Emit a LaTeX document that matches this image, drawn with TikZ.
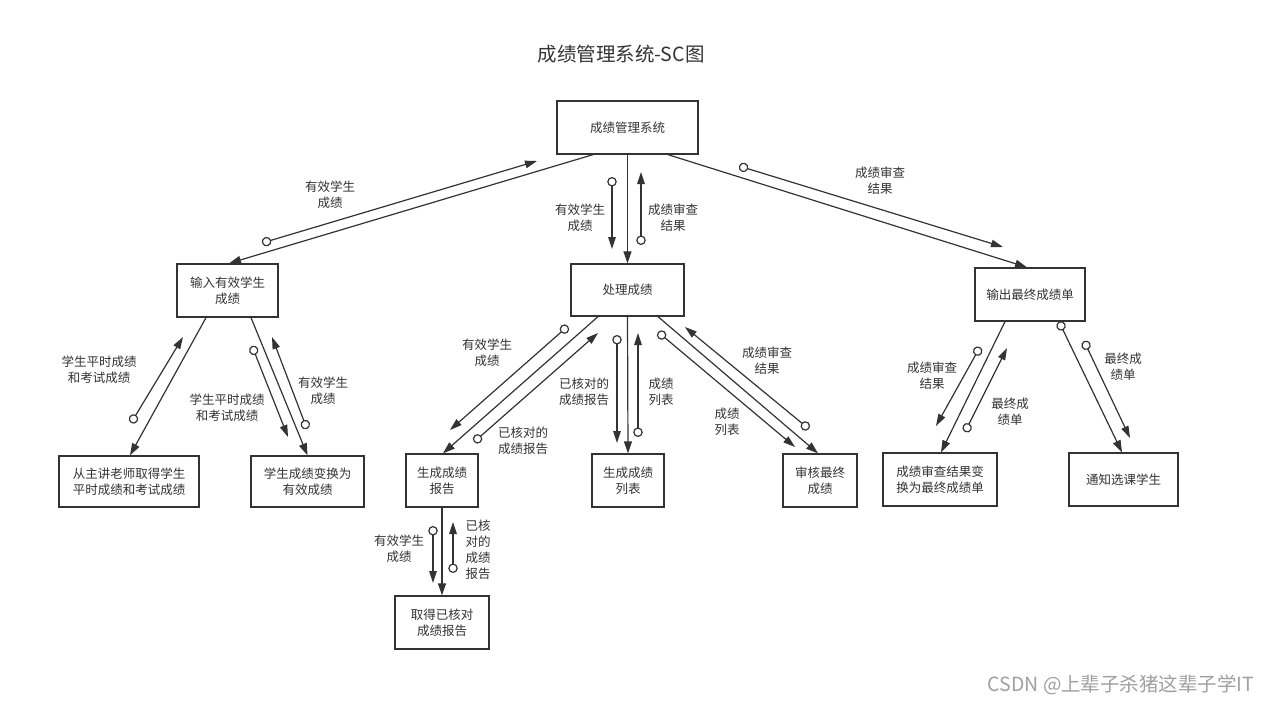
\documentclass[tikz,border=0pt]{standalone}
\usepackage{fontspec}
\setmainfont{Noto Sans CJK SC}
\usetikzlibrary{arrows.meta}
\definecolor{ink}{HTML}{333333}
\definecolor{wm}{HTML}{A0A0A0}
\tikzset{
 box/.style={draw=ink, line width=1.3pt, fill=white, inner sep=0pt, align=center, font=\fontsize{12.5}{16}\selectfont, text=ink},
 lbl/.style={align=center, font=\fontsize{12.5}{16}\selectfont, text=ink, inner sep=0pt},
 flow/.style={draw=ink, line width=1.2pt, -{Triangle[length=12pt,width=8pt]}},
 couple/.style={draw=ink, line width=1.2pt, {Circle[open,length=9.5pt,width=9.5pt]}-{Triangle[length=12pt,width=7.5pt]}},
 ccouple/.style={draw=ink, line width=1.2pt, {Circle[open,length=9.5pt,width=9.5pt]}-{Triangle[length=12pt,width=8pt]}},
}
\begin{document}
\begin{tikzpicture}[x=1pt,y=-1pt]
\fill[white] (0,0) rectangle (1270,704);
\useasboundingbox (0,0) rectangle (1270,704);

\node[text=ink, font=\fontsize{19.5}{23}\selectfont, inner sep=0pt] (title) at (621,54) {成绩管理系统-SC图};

% boxes
\node[box, minimum width=141pt, minimum height=53pt] (top) at (627.5,127.5) {成绩管理系统};
\node[box, minimum width=101pt, minimum height=53pt] (in) at (227.5,290.5) {输入有效学生\\成绩};
\node[box, minimum width=113pt, minimum height=52pt] (proc) at (627.5,290) {处理成绩};
\node[box, minimum width=110pt, minimum height=53pt] (out) at (1030,294.5) {输出最终成绩单};
\node[box, minimum width=140pt, minimum height=51pt] (teacher) at (129,481.5) {从主讲老师取得学生\\平时成绩和考试成绩};
\node[box, minimum width=113pt, minimum height=51pt] (conv) at (307.5,481.5) {学生成绩变换为\\有效成绩};
\node[box, minimum width=72pt, minimum height=53pt] (report) at (442,480.5) {生成成绩\\报告};
\node[box, minimum width=72pt, minimum height=53pt] (list) at (628,480.5) {生成成绩\\列表};
\node[box, minimum width=74pt, minimum height=53pt] (audit) at (820,480.5) {审核最终\\成绩};
\node[box, minimum width=114pt, minimum height=53pt] (trans) at (940,479.5) {成绩审查结果变\\换为最终成绩单};
\node[box, minimum width=109pt, minimum height=53pt] (notify) at (1123.5,479.5) {通知选课学生};
\node[box, minimum width=94pt, minimum height=53pt] (get) at (442,622.5) {取得已核对\\成绩报告};

% main flows
\draw[flow] ([xshift=-34.5pt]top.south) -- ([xshift=1.5pt]in.north);
\draw[flow] (top.south) -- (proc.north);
\draw[flow] ([xshift=40.5pt]top.south) -- ([xshift=-3pt]out.north);
\draw[flow] ([xshift=-21.5pt]in.south) -- ([xshift=1pt]teacher.north);
\draw[flow] ([xshift=23.5pt]in.south) -- (conv.north);
\draw[flow] ([xshift=-29.5pt]proc.south) -- ([xshift=1pt]report.north);
\draw[flow] (proc.south) -- (list.north);
\draw[flow] ([xshift=30.5pt]proc.south) -- ([xshift=-2pt]audit.north);
\draw[flow] ([xshift=-25pt]out.south) -- ([xshift=1pt]trans.north);
\draw[ccouple] ([xshift=29pt]out.south) -- ([xshift=-1.5pt]notify.north);
\draw[flow] (report.south) -- (get.north);

% couple end points
\coordinate (c1a) at (262,243);  \coordinate (c1b) at (537,161);
\coordinate (c2a) at (612,177);  \coordinate (c2b) at (612,249);
\coordinate (c3a) at (641,245);  \coordinate (c3b) at (641,172);
\coordinate (c4a) at (739,166);  \coordinate (c4b) at (1003,247);
\coordinate (c5a) at (131,423);  \coordinate (c5b) at (183,337);
\coordinate (c6a) at (252,346);  \coordinate (c6b) at (288,437);
\coordinate (c7a) at (307,429);  \coordinate (c7b) at (272,337);
\coordinate (c8a) at (568,326);  \coordinate (c8b) at (450,430);
\coordinate (c9a) at (474,442);  \coordinate (c9b) at (598,333);
\coordinate (c10a) at (617,335); \coordinate (c10b) at (617,443);
\coordinate (c11a) at (638,437); \coordinate (c11b) at (638,333);
\coordinate (c12a) at (658,332); \coordinate (c12b) at (795,447);
\coordinate (c13a) at (809,429); \coordinate (c13b) at (685,327);
\coordinate (c14a) at (980,347); \coordinate (c14b) at (936,426);
\coordinate (c15a) at (965,432); \coordinate (c15b) at (1007,348);
\coordinate (c16a) at (1084,341); \coordinate (c16b) at (1130,438);
\coordinate (c17a) at (433,526); \coordinate (c17b) at (433,583);
\coordinate (c18a) at (453,573); \coordinate (c18b) at (453,522);

\foreach \i in {1,...,18} {\draw[couple] (c\i a) -- (c\i b);}

% labels
\node[lbl] (l1) at (330,195) {有效学生\\成绩};
\node[lbl] (l2) at (580,218) {有效学生\\成绩};
\node[lbl] (l3) at (673,218) {成绩审查\\结果};
\node[lbl] (l4) at (880,181) {成绩审查\\结果};
\node[lbl] (l5) at (99,370) {学生平时成绩\\和考试成绩};
\node[lbl] (l6) at (227,408) {学生平时成绩\\和考试成绩};
\node[lbl] (l7) at (323,391) {有效学生\\成绩};
\node[lbl] (l8) at (487,353) {有效学生\\成绩};
\node[lbl] (l9) at (523,441) {已核对的\\成绩报告};
\node[lbl] (l10) at (584,392) {已核对的\\成绩报告};
\node[lbl] (l11) at (661,392) {成绩\\列表};
\node[lbl] (l12) at (727,422) {成绩\\列表};
\node[lbl] (l13) at (767,361) {成绩审查\\结果};
\node[lbl] (l14) at (932,376) {成绩审查\\结果};
\node[lbl] (l15) at (1010,412) {最终成\\绩单};
\node[lbl] (l16) at (1123,367) {最终成\\绩单};
\node[lbl] (l17) at (399,549) {有效学生\\成绩};
\node[lbl] (l18) at (478,550) {已核\\对的\\成绩\\报告};

\node[text=wm, font=\fontsize{19.5}{22}\selectfont, inner sep=0pt] (wmk) at (1121,685) {CSDN @上辈子杀猪这辈子学IT};
\end{tikzpicture}
\end{document}
